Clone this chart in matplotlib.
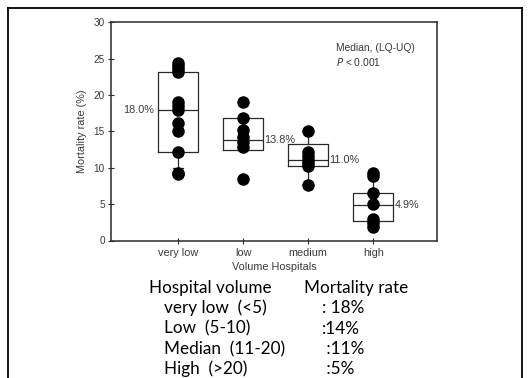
import matplotlib
matplotlib.use("Agg")
import matplotlib.pyplot as plt
from matplotlib.lines import Line2D

# ---- data ----
categories = ["very low", "low", "medium", "high"]
points_very_low = [24.4, 24.0, 23.6, 23.2, 19.0, 18.5, 18.0, 16.1, 15.1, 12.2, 9.3, 9.1]
points_low = [19.0, 16.9, 15.2, 14.2, 13.6, 12.8, 8.4]
points_medium = [15.0, 12.1, 11.6, 11.1, 10.6, 10.2, 7.6]
points_high = [9.3, 8.8, 6.5, 5.0, 2.9, 2.4, 1.9]
q1 = [12.2, 12.5, 10.2, 2.7]
medians = [18.0, 13.8, 11.0, 4.9]
q3 = [23.2, 16.9, 13.3, 6.5]
whisker_low = [9.9, 12.5, 7.6, 1.9]
whisker_high = [24.3, 16.9, 15.0, 9.3]
median_labels = ["18.0%", "13.8%", "11.0%", "4.9%"]
yticks = [0, 5, 10, 15, 20, 25, 30]

table_header = ["Hospital volume", "Mortality rate"]
table_groups = ["very low  (<5)", "Low  (5-10)", "Median  (11-20)", "High  (>20)"]
table_rates = [": 18%", ":14%", " :11%", " :5%"]

all_points = [points_very_low, points_low, points_medium, points_high]

fig = plt.figure(figsize=(5.30, 3.78), dpi=100)
fig.patch.set_facecolor("white")

# outer frame (top, left, right edges; open at the bottom)
H = 378.0
W = 530.0
frame_segments = [([7.5, 7.5], [378, 7.5]), ([7.5, 521.5], [7.5, 7.5]), ([521.5, 521.5], [7.5, 378])]
for xs, ys in frame_segments:
    fig.add_artist(Line2D([x / W for x in xs], [1 - y / H for y in ys],
                          color="black", lw=1.3, transform=fig.transFigure))

ax = fig.add_axes([111 / W, 1 - 240.5 / H, (437 - 111) / W, (240.5 - 22.3) / H])
chart_col = "#2a2a2a"
text_col = "#3a3a3a"
cfont = "Liberation Sans"
csize = 7.8

positions = [1, 2, 3, 4]
stats = []
for i in range(4):
    stats.append(dict(med=medians[i], q1=q1[i], q3=q3[i],
                      whislo=whisker_low[i], whishi=whisker_high[i], fliers=[]))
ax.bxp(stats, positions=positions, widths=0.62, showfliers=False,
       boxprops=dict(color=chart_col, lw=0.9),
       medianprops=dict(color=chart_col, lw=0.9),
       whiskerprops=dict(color=chart_col, lw=0.9),
       capprops=dict(color=chart_col, lw=0.9),
       capwidths=0.16, manage_ticks=False)

for p, pts in zip(positions, all_points):
    ax.plot([p] * len(pts), pts, "o", color="black", ms=8, zorder=5)

# median labels
ax.text(1 - 0.37, medians[0], median_labels[0], ha="right", va="center",
        fontsize=csize, color=text_col, family=cfont)
for i in range(1, 4):
    ax.text(positions[i] + 0.33, medians[i], median_labels[i], ha="left", va="center",
            fontsize=csize, color=text_col, family=cfont)

ax.text(0.69, 0.88, "Median, (LQ-UQ)", transform=ax.transAxes, fontsize=7.4,
        color=text_col, family=cfont, ha="left", va="center")
ax.text(0.69, 0.82, r"$P$ < 0.001", transform=ax.transAxes, fontsize=7.4,
        color=text_col, family=cfont, ha="left", va="center")

ax.set_xlim(-0.03, 4.98)
ax.set_ylim(0, 30)
ax.set_xticks(positions)
ax.set_xticklabels(categories, family=cfont, fontsize=csize, color=text_col)
ax.set_yticks(yticks)
ax.set_yticklabels([str(v) for v in yticks], family=cfont, fontsize=7.2, color=text_col)
ax.tick_params(axis="y", direction="inout", length=5, width=0.8, color=chart_col, pad=2)
ax.tick_params(axis="x", direction="inout", length=5, width=0.8, color=chart_col, pad=3)
for s in ax.spines.values():
    s.set_color(chart_col)
    s.set_linewidth(1.1)
ax.set_ylabel("Mortality rate (%)", family=cfont, fontsize=csize, color=text_col, labelpad=5)
ax.set_xlabel("Volume Hospitals", family=cfont, fontsize=csize, color=text_col, labelpad=3)

# lower text block
tfont = "Lato"
tsize = 12.3
fig.text(149 / W, 1 - 288 / H, table_header[0], fontsize=tsize, family=tfont,
         ha="left", va="center", color="black")
fig.text(304 / W, 1 - 288 / H, table_header[1], fontsize=tsize, family=tfont,
         ha="left", va="center", color="black")
row_y = [308, 328.5, 349, 368.5]
for g, r, y in zip(table_groups, table_rates, row_y):
    fig.text(164.5 / W, 1 - y / H, g, fontsize=tsize, family=tfont,
             ha="left", va="center", color="black")
    fig.text(322 / W, 1 - y / H, r, fontsize=tsize, family=tfont,
             ha="left", va="center", color="black")

fig.savefig("out.png", dpi=100, facecolor="white")
